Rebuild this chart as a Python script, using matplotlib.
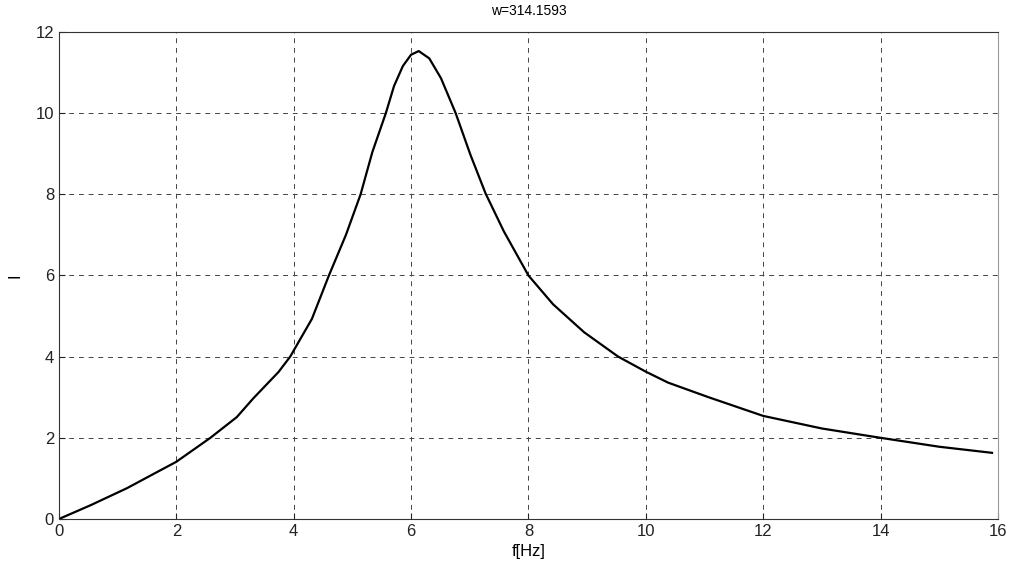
import matplotlib.pyplot as plt
import numpy as np

plt.rcParams['font.family'] = ['Liberation Sans', 'DejaVu Sans']

# values
f_hz = [0.0, 0.54, 1.16, 1.56, 2.0, 2.58, 3.03, 3.31, 3.74, 3.94, 4.31, 4.6, 4.89,
        5.14, 5.34, 5.57, 5.71, 5.86, 6.0, 6.13, 6.31, 6.51, 6.76, 7.01, 7.27,
        7.58, 8.0, 8.42, 8.95, 9.53, 10.0, 10.38, 11.07, 12.0, 13.0, 14.0, 15.0, 15.9]
current = [0.0, 0.34, 0.76, 1.07, 1.41, 2.0, 2.51, 2.97, 3.62, 4.0, 4.93, 6.0, 7.0,
           8.0, 9.04, 10.0, 10.67, 11.16, 11.44, 11.53, 11.35, 10.86, 10.0, 8.98, 8.02,
           7.09, 6.0, 5.29, 4.6, 4.0, 3.63, 3.36, 3.0, 2.54, 2.23, 2.0, 1.78, 1.63]

xticks = [0, 2, 4, 6, 8, 10, 12, 14, 16]
yticks = [0, 2, 4, 6, 8, 10, 12]

fig = plt.figure(figsize=(10.1, 5.68), dpi=100)
ax = fig.add_axes([0.0584, 0.0863, 0.9296, 0.8574])

ax.plot(f_hz, current, color='black', linewidth=1.6)

ax.set_xlim(0, 16)
ax.set_ylim(0, 12)
ax.set_xticks(xticks)
ax.set_yticks(yticks)
ax.tick_params(direction='in', length=4, labelsize=12, colors='#222222')
ax.grid(True, color='#444444', linestyle=(0, (5, 5)), linewidth=0.7)

for side in ['left', 'bottom', 'top']:
    ax.spines[side].set_color('#333333')
ax.spines['right'].set_color('#999999')

ax.set_title('w=314.1593', fontsize=10, pad=12)
ax.set_xlabel('f[Hz]', fontsize=12, labelpad=4)
ax.set_ylabel('I', fontsize=12, labelpad=9)

fig.savefig('out.png', dpi=100)
